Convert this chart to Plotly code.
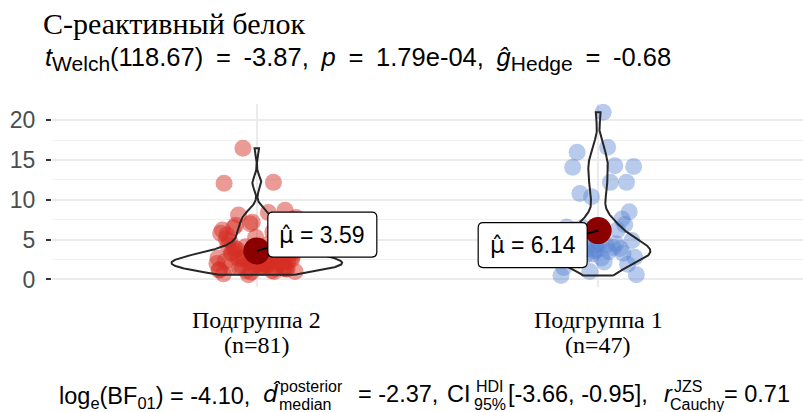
import numpy as np
import plotly.graph_objects as go

# Groups (x order) and their sample-size labels
groups = ["Подгруппа 2", "Подгруппа 1"]
group_n = ["(n=81)", "(n=47)"]

# С-реактивный белок, Подгруппа 2
crp_group2 = [
    2.0, 1.8, 6.8, 8.7, 1.7, 12.1, 12.2, 16.5, 2.9, 1.5,
    3.3, 2.6, 7.0, 1.2, 4.5, 8.1, 2.2, 3.0, 5.6,
    1.9, 4.1, 1.0, 2.4, 3.6, 1.4, 2.8, 6.2, 1.1, 2.5,
    3.1, 1.6, 4.9, 2.1, 0.6, 2.7, 1.8, 3.8, 1.3, 5.3,
    2.3, 1.0, 2.8, 7.5, 1.7, 3.4, 2.0, 0.9, 5.8, 2.4,
    1.5, 3.2, 1.9, 4.3, 2.6, 1.1, 7.8, 2.1, 3.9, 1.4,
    2.9, 0.7, 6.0, 1.6, 2.5, 3.5, 1.6, 4.7, 2.2, 1.2,
    8.4, 2.7, 1.3, 3.0, 5.1, 1.4, 2.6, 3.7, 2.2, 6.5,
    2.3, 7.2,
]

# С-реактивный белок, Подгруппа 1
crp_group1 = [
    3.4, 16.6, 16.0, 12.2, 4.4, 4.1, 14.3, 5.0, 14.2, 21.0,
    14.1, 7.6, 10.4, 0.5, 12.2, 10.8, 8.5,
    4.6, 2.5, 6.2, 3.8, 0.6, 4.3, 2.9, 6.9, 3.6, 1.5,
    4.0, 6.5, 4.9, 2.7, 3.3, 3.9, 1.0, 6.0, 3.5, 3.1,
    1.9, 3.7, 6.6, 4.5, 3.0, 2.8, 2.2, 6.3, 3.3, 3.2,
]

series = [np.array(crp_group2), np.array(crp_group1)]
point_colors = ["rgba(214, 45, 35, 0.48)", "rgba(88, 132, 210, 0.42)"]

W, H = 803, 412
ML, MR, MT, MB = 52, 0, 104, 125
PW, PH = W - ML - MR, H - MT - MB
XR = [0.4, 2.6]
YR = [-0.95, 22.05]


def px_x(px):
    return (px - ML) / PW


def px_y(py):
    return (H - MB - py) / PH


def bw_nrd0(v):
    sd = np.std(v, ddof=1)
    q75, q25 = np.percentile(v, [75, 25])
    return 0.9 * min(sd, (q75 - q25) / 1.34) * len(v) ** -0.2


def kde(v, grid, bw):
    z = (grid[:, None] - v[None, :]) / bw
    return np.exp(-0.5 * z ** 2).sum(axis=1) / (len(v) * bw * np.sqrt(2 * np.pi))


fig = go.Figure()

# jittered raw observations
phi = (np.sqrt(5) - 1) / 2
jit_w = 0.117
for i, v in enumerate(series):
    k = np.arange(len(v))
    off = ((k * phi) % 1.0 - 0.5) * 2 * jit_w
    fig.add_trace(go.Scatter(
        x=(i + 1) + off, y=v, mode="markers",
        marker=dict(size=17, color=point_colors[i], line=dict(width=0)),
        hoverinfo="skip", showlegend=False,
    ))

# violins (trimmed kernel densities, area-scaled across groups)
dens = []
for v in series:
    grid = np.linspace(v.min(), v.max(), 512)
    dens.append((grid, kde(v, grid, bw_nrd0(v))))
dmax = max(d.max() for _, d in dens)
for i, (grid, d) in enumerate(dens):
    half = 0.25 * d / dmax
    xs = np.concatenate([(i + 1) + half, ((i + 1) - half)[::-1], [(i + 1) + half[0]]])
    ys = np.concatenate([grid, grid[::-1], [grid[0]]])
    fig.add_trace(go.Scatter(
        x=xs, y=ys, mode="lines",
        line=dict(color="#262626", width=2),
        hoverinfo="skip", showlegend=False,
    ))

# group means
means = [float(v.mean()) for v in series]
fig.add_trace(go.Scatter(
    x=[1, 2], y=means, mode="markers",
    marker=dict(size=27, color="#8B0000", line=dict(width=0)),
    hoverinfo="skip", showlegend=False,
))


def rounded_path(x0, y0, x1, y1, r):
    return (f"M{x0 + r},{y0} L{x1 - r},{y0} Q{x1},{y0} {x1},{y0 + r} "
            f"L{x1},{y1 - r} Q{x1},{y1} {x1 - r},{y1} L{x0 + r},{y1} "
            f"Q{x0},{y1} {x0},{y1 - r} L{x0},{y0 + r} Q{x0},{y0} {x0 + r},{y0} Z")


MU_HAT = "<span style='font-family:DejaVu Sans'>μ\u0302</span>"

# mean labels: (dx, dy) of label centre from the mean point, in pixels
label_offsets = [(65.5, 16.3), (-65.5, -14.5)]
box_w, box_h = 109, 45
shapes = []
annotations = []
for i, (m, (dx, dy)) in enumerate(zip(means, label_offsets)):
    x0, x1 = dx - box_w / 2, dx + box_w / 2
    y0, y1 = dy - box_h / 2, dy + box_h / 2
    edge_x = x0 if dx > 0 else x1
    shapes.append(dict(
        type="line", xref="x", yref="y", xsizemode="pixel", ysizemode="pixel",
        xanchor=i + 1, yanchor=m, x0=0, y0=0, x1=edge_x, y1=dy * 0.2,
        line=dict(color="black", width=2), layer="above",
    ))
    shapes.append(dict(
        type="path", xref="x", yref="y", xsizemode="pixel", ysizemode="pixel",
        xanchor=i + 1, yanchor=m, path=rounded_path(x0, y0, x1, y1, 5),
        fillcolor="white", line=dict(color="black", width=1.2), layer="above",
    ))
    annotations.append(dict(
        x=i + 1, y=m, xref="x", yref="y", xshift=dx, yshift=dy,
        text=f"{MU_HAT} = {m:.2f}", showarrow=False,
        font=dict(family="Liberation Sans", size=23, color="black"),
    ))

# category labels
for i, (g, n) in enumerate(zip(groups, group_n)):
    for txt, py in ((g, 320), (n, 345)):
        annotations.append(dict(
            x=i + 1, y=px_y(py), xref="x", yref="paper",
            text=txt, showarrow=False, yanchor="middle",
            font=dict(family="Liberation Serif", size=24, color="black"),
        ))

title_font = dict(family="Liberation Serif", size=30, color="black")
sub_font = dict(family="Liberation Sans", size=25.5, color="black")
sans = dict(family="Liberation Sans", size=23.5, color="black")
small = dict(family="Liberation Sans", size=16, color="black")


def text_at(txt, px, py, font, anchor="left"):
    annotations.append(dict(
        x=px_x(px), y=px_y(py), xref="paper", yref="paper",
        text=txt, showarrow=False, xanchor=anchor, yanchor="middle",
        font=font,
    ))


def sub_big(s):
    return f"<sub><span style='font-size:21px'>{s}</span></sub>"


EQ = "\u2002=\u2002"

# title and subtitle
text_at("С-реактивный белок", 41, 24, title_font)
text_at(f"<i>t</i>{sub_big('Welch')}(118.67){EQ}-3.87,\u2002<i>p</i>{EQ}1.79e-04,"
        f"\u2002<i>ĝ</i>{sub_big('Hedge')}{EQ}-0.68", 43, 59, sub_font)

# caption: Bayesian statistics
text_at("log<sub>e</sub>(BF<sub>01</sub>) = -4.10,", 57, 397, sans)
text_at("<span style='font-family:DejaVu Sans'><i>d\u0302</i></span>", 261, 394, sans)
text_at("posterior", 278, 386, small)
text_at("median", 277, 404, small)
text_at("= -2.37,", 440, 394, sans, anchor="right")
text_at("CI", 445, 394, sans)
text_at("HDI", 474, 386, small)
text_at("95%", 472, 404, small)
text_at("[-3.66, -0.95],", 506, 394, sans)
text_at("<i>r</i>", 662, 394, sans)
text_at("JZS", 672, 386, small)
text_at("Cauchy", 668, 404, small)
text_at("= 0.71", 792, 394, sans, anchor="right")

fig.update_layout(
    width=W, height=H,
    margin=dict(l=ML, r=MR, t=MT, b=MB, pad=0),
    paper_bgcolor="white", plot_bgcolor="white",
    showlegend=False,
    shapes=shapes, annotations=annotations,
    xaxis=dict(
        range=XR, tickvals=[1, 2], showticklabels=False, ticks="",
        showgrid=True, gridcolor="#EBEBEB", gridwidth=2,
        zeroline=False, showline=False, fixedrange=True,
    ),
    yaxis=dict(
        range=YR, tickvals=[0, 5, 10, 15, 20], ticks="outside", ticklen=5,
        tickwidth=2, tickcolor="#333333", ticklabelstandoff=6,
        tickfont=dict(family="Liberation Sans", size=23, color="#4D4D4D"),
        showgrid=True, gridcolor="#EBEBEB", gridwidth=2,
        minor=dict(tickvals=[2.5, 7.5, 12.5, 17.5], showgrid=True,
                   gridcolor="#F0F0F0", gridwidth=1.2, ticks=""),
        zeroline=False, showline=False, fixedrange=True,
    ),
)

fig.write_html("out.html")
